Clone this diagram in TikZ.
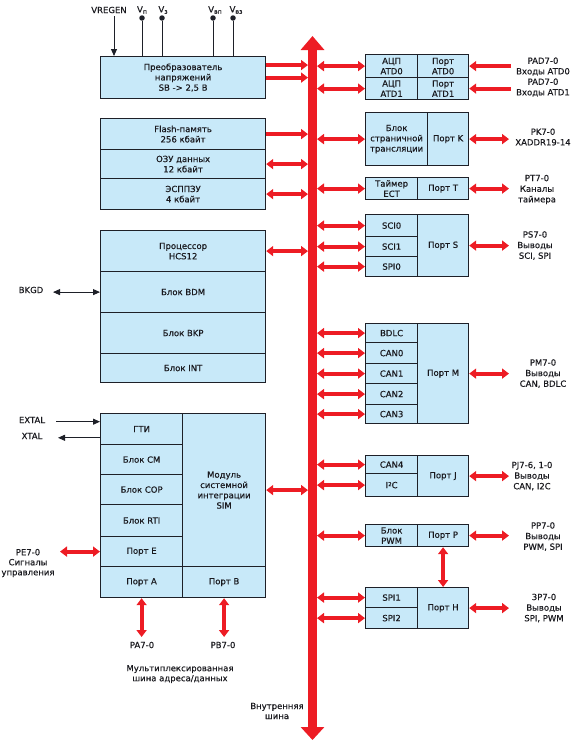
\documentclass[tikz,border=0pt]{standalone}
\usepackage{fontspec}
\setmainfont{DejaVu Sans}[FakeBold=0.35]
\usetikzlibrary{arrows.meta,calc}
\definecolor{boxfill}{RGB}{200,233,249}
\definecolor{busred}{RGB}{237,28,36}
\definecolor{edgec}{RGB}{30,32,40}
\definecolor{txt}{RGB}{25,25,30}
\newcommand\mycell[6]{\node[cellbox,anchor=north west,minimum width={(#4-#2)*1pt},minimum height={(#5-#3)*1pt}] (#1) at (#2,#3) {#6};}
\newcommand\sbs[1]{\raisebox{-1.3pt}{\fontsize{6.2}{6.2}\selectfont #1}}
\begin{document}
\begin{tikzpicture}[x=1pt,y=-1pt,
  cellbox/.style={draw=edgec,fill=boxfill,line width=1.2pt,inner sep=0pt,align=center,text=txt,font=\fontsize{8.5}{10.3}\selectfont},
  lbl/.style={align=center,text=txt,inner sep=1pt,font=\fontsize{8.5}{10.6}\selectfont},
  rtip/.tip={Triangle[length=7pt,width=10pt]},
  btip/.tip={Triangle[length=7pt,width=6pt]},
  rb/.style={busred,line width=4pt,rtip-rtip},
  rto/.style={busred,line width=4pt,-rtip},
  rfrom/.style={busred,line width=4pt,rtip-},
  bl/.style={edgec,line width=0.9pt},
  dotc/.style={circle,fill=edgec,inner sep=0pt,minimum size=5.5pt}
]
\useasboundingbox (0,0) rectangle (576,744);

% ---- internal bus
\coordinate (busTop) at (312.5,36);
\coordinate (busBot) at (312.5,740);
\coordinate (busL) at (308,0);
\coordinate (busR) at (317,0);
\coordinate (extR) at (509,0);
\coordinate (extA) at (511,0);
\draw[busred,line width=9pt,{Triangle[length=13pt,width=23pt]}-{Triangle[length=14pt,width=23pt]}] (busBot) -- (busTop);

% ---- left blocks
\mycell{conv}{100}{56}{265}{98}{Преобразователь\\напряжений\\SB -> 2,5 В}
\mycell{flash}{100}{118}{265}{149}{Flash-память\\256 кбайт}
\mycell{ram}{100}{149}{265}{178}{ОЗУ данных\\12 кбайт}
\mycell{eep}{100}{178}{265}{209}{ЭСППЗУ\\4 кбайт}
\mycell{cpu}{100}{230}{265}{271}{Процессор\\HCS12}
\mycell{bdm}{100}{271}{265}{312}{Блок BDM}
\mycell{bkp}{100}{312}{265}{353}{Блок BKP}
\mycell{int}{100}{353}{265}{382}{Блок INT}
\mycell{gti}{100}{413}{182}{444}{ГТИ}
\mycell{cm}{100}{444}{182}{474}{Блок CM}
\mycell{cop}{100}{474}{182}{504}{Блок COP}
\mycell{rti}{100}{504}{182}{536}{Блок RTI}
\mycell{pe}{100}{536}{182}{566}{Порт E}
\mycell{pa}{100}{566}{182}{597}{Порт A}
\mycell{sim}{182}{413}{265}{566}{Модуль\\системной\\интеграции\\SIM}
\mycell{pb}{182}{566}{265}{597}{Порт B}

% ---- right blocks
\mycell{adc0}{365}{54}{417}{77}{АЦП\\ATD0}
\mycell{patd0}{417}{54}{468}{77}{Порт\\ATD0}
\mycell{adc1}{365}{77}{417}{99}{АЦП\\ATD1}
\mycell{patd1}{417}{77}{468}{99}{Порт\\ATD1}
\mycell{page}{365}{112}{427}{165}{Блок\\страничной\\трансляции}
\mycell{pk}{427}{112}{468}{165}{Порт K}
\mycell{ect}{365}{177}{417}{199}{Таймер\\ECT}
\mycell{pt}{417}{177}{468}{199}{Порт T}
\mycell{sci0}{365}{214}{417}{236}{SCI0}
\mycell{sci1}{365}{236}{417}{256}{SCI1}
\mycell{spi0}{365}{256}{417}{276}{SPI0}
\mycell{ps}{417}{214}{468}{276}{Порт S}
\mycell{bdlc}{365}{323}{417}{342}{BDLC}
\mycell{can0}{365}{342}{417}{363}{CAN0}
\mycell{can1}{365}{363}{417}{383}{CAN1}
\mycell{can2}{365}{383}{417}{404}{CAN2}
\mycell{can3}{365}{404}{417}{423}{CAN3}
\mycell{pm}{417}{323}{468}{423}{Порт M}
\mycell{can4}{365}{455}{417}{473}{CAN4}
\mycell{iic}{365}{473}{417}{496}{I\raisebox{2pt}{\fontsize{5.5}{5.5}\selectfont 2}C}
\mycell{pj}{417}{455}{468}{496}{Порт J}
\mycell{pwm}{365}{524}{417}{546}{Блок\\PWM}
\mycell{pp}{417}{524}{468}{546}{Порт P}
\mycell{spi1}{365}{587}{417}{607}{SPI1}
\mycell{spi2}{365}{607}{417}{628}{SPI2}
\mycell{ph}{417}{587}{468}{628}{Порт H}

% ---- left side to bus
\coordinate (convA) at ($(conv.north east)!0.21!(conv.south east)$);
\draw[rto] (convA) -- (convA -| busL);
\draw[rto] (conv.east) -- (conv.east -| busL);
\draw[rto] (flash.east) -- (flash.east -| busL);
\foreach \n in {ram,eep,cpu,sim}{\draw[rb] (\n.east) -- (\n.east -| busL);}

% ---- bus to right side
\foreach \n in {adc0,adc1,page,ect,sci0,sci1,spi0,bdlc,can0,can1,can2,can3,can4,iic,pwm,spi1,spi2}{\draw[rb] (busR |- \n.west) -- (\n.west);}

% ---- external right
\draw[rfrom] (patd0.east) -- (patd0.east -| extA);
\draw[rfrom] (patd1.east) -- (patd1.east -| extA);
\foreach \n in {pk,pt,ps,pm,pj,pp,ph}{\draw[rb] (\n.east) -- (\n.east -| extR);}
\draw[rb] (pp.south) -- (ph.north);

% ---- right labels
\node[lbl] (lad0) at (543,66.5) {PAD7-0\\Входы ATD0};
\node[lbl] (lad1) at (543,87.5) {PAD7-0\\Входы ATD1};
\node[lbl] (lpk) at (543,137) {PK7-0\\XADDR19-14};
\node[lbl] (lpt) at (537,189.5) {PT7-0\\Каналы\\таймера};
\node[lbl] (lps) at (535,245.5) {PS7-0\\Выводы\\SCI, SPI};
\node[lbl] (lpm) at (543,373.5) {PM7-0\\Выводы\\CAN, BDLC};
\node[lbl] (lpj) at (532,476) {PJ7-6, 1-0\\Выводы\\CAN, I2C};
\node[lbl] (lpp) at (543,536.5) {PP7-0\\Выводы\\PWM, SPI};
\node[lbl] (lph) at (544,608) {3P7-0\\Выводы\\SPI, PWM};

% ---- top supply
\node[lbl] (vregen) at (109,10) {VREGEN};
\coordinate (vrs) at (114,16);
\draw[bl,-btip] (vrs) -- (vrs |- conv.north);
\node[dotc] (d1) at (142,18) {};
\node[dotc] (d2) at (162,18) {};
\node[dotc] (d3) at (213,18) {};
\node[dotc] (d4) at (233,18) {};
\foreach \d in {d1,d2,d3,d4}{\draw[bl] (\d) -- (\d |- conv.north);}
\node[lbl] (lv1) at (142,10) {V\sbs{п}};
\node[lbl] (lv2) at (163,10) {V\sbs{з}};
\node[lbl] (lv3) at (215,10) {V\sbs{вп}};
\node[lbl] (lv4) at (236,10) {V\sbs{вз}};

% ---- left signals
\node[lbl] (bkgd) at (31,290) {BKGD};
\coordinate (bkE) at (53,0);
\draw[bl,btip-btip] (bkE |- bdm.west) -- (bdm.west);
\node[lbl] (extal) at (32,420) {EXTAL};
\node[lbl] (xtal) at (32,436) {XTAL};
\coordinate (gA) at ($(gti.north west)!0.27!(gti.south west)$);
\coordinate (gB) at ($(gti.north west)!0.77!(gti.south west)$);
\coordinate (exE) at (56,0);
\coordinate (xE) at (58,0);
\draw[bl,-btip] (gA -| exE) -- (gA);
\draw[bl,-btip] (gB) -- (gB -| xE);
\node[lbl,font=\fontsize{8.5}{10}\selectfont] (lpe) at (28,563) {PE7-0\\Сигналы\\управления};
\coordinate (peE) at (60,0);
\draw[rb] (peE |- pe.west) -- (pe.west);

% ---- bottom
\node[lbl] (lpa) at (142,645) {PA7-0};
\node[lbl] (lpb) at (223,645) {PB7-0};
\coordinate (paE) at (0,637);
\draw[rb] (pa.south) -- (pa.south |- paE);
\draw[rb] (pb.south) -- (pb.south |- paE);
\node[lbl,font=\fontsize{8.5}{10}\selectfont] (lmux) at (180,674) {Мультиплексированная\\шина адреса/данных};
\node[lbl,font=\fontsize{8.5}{10}\selectfont] (lbus) at (277,711) {Внутренняя\\шина};
\end{tikzpicture}
\end{document}
